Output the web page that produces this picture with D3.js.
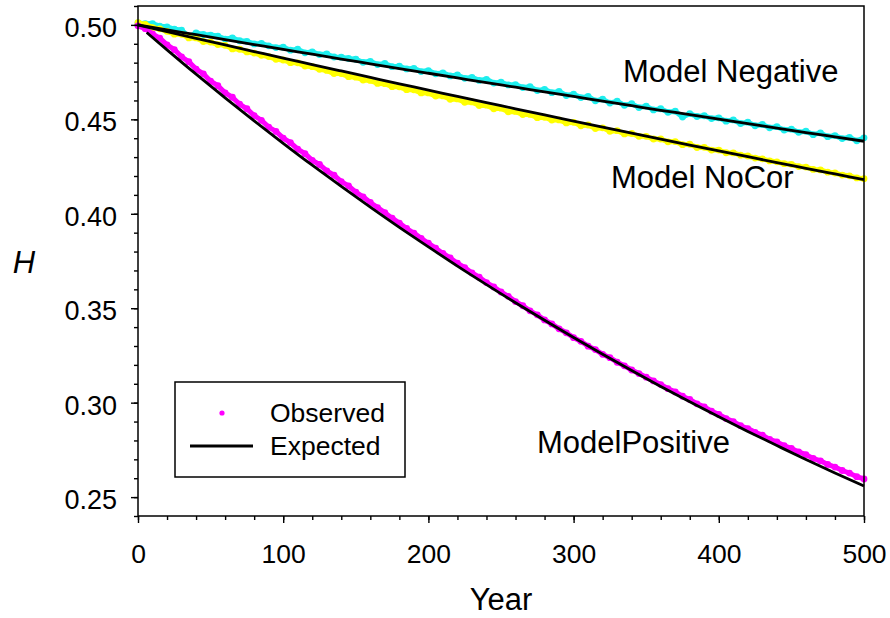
<!DOCTYPE html>
<html>
<head>
<meta charset="utf-8">
<script src="https://cdn.jsdelivr.net/npm/d3@7"></script>
<style>
  body { margin: 0; background: #fff; }
  svg text { font-family: "Liberation Sans", Arial, sans-serif; fill: #000; }
</style>
</head>
<body>
<div id="chart"></div>
<script>
// Years at which the observed values were read (every 5 years)
var obsYears = [0,5,10,15,20,25,30,35,40,45,50,55,60,65,70,75,80,85,90,95,
  100,105,110,115,120,125,130,135,140,145,150,155,160,165,170,175,180,185,190,195,
  200,205,210,215,220,225,230,235,240,245,250,255,260,265,270,275,280,285,290,295,
  300,305,310,315,320,325,330,335,340,345,350,355,360,365,370,375,380,385,390,395,
  400,405,410,415,420,425,430,435,440,445,450,455,460,465,470,475,480,485,490,495,500];

// Observed H, Model Negative (cyan)
var negObserved = [.5010,.5006,.5007,.4993,.4990,.4978,.4972,.4938,.4957,.4949,
  .4946,.4941,.4925,.4931,.4916,.4913,.4899,.4902,.4889,.4880,
  .4882,.4866,.4871,.4852,.4857,.4843,.4846,.4830,.4829,.4822,
  .4818,.4802,.4807,.4790,.4796,.4779,.4781,.4767,.4770,.4753,
  .4758,.4741,.4746,.4730,.4735,.4717,.4722,.4706,.4712,.4692,
  .4697,.4682,.4684,.4668,.4673,.4652,.4659,.4641,.4648,.4626,
  .4633,.4615,.4621,.4598,.4607,.4586,.4596,.4574,.4583,.4562,
  .4570,.4550,.4556,.4537,.4543,.4512,.4530,.4515,.4519,.4504,
  .4508,.4490,.4497,.4478,.4485,.4466,.4473,.4455,.4461,.4443,
  .4448,.4431,.4437,.4419,.4428,.4408,.4414,.4398,.4405,.4386,.4402];

// Observed H, Model NoCor (yellow)
var noCorObserved = [.5012,.5003,.4986,.4979,.4966,.4951,.4950,.4931,.4931,.4912,
  .4909,.4896,.4892,.4873,.4871,.4857,.4851,.4839,.4832,.4818,
  .4814,.4800,.4799,.4782,.4779,.4765,.4759,.4742,.4742,.4726,
  .4723,.4708,.4706,.4690,.4689,.4673,.4672,.4657,.4656,.4640,
  .4640,.4623,.4624,.4606,.4608,.4590,.4592,.4573,.4575,.4556,
  .4559,.4540,.4542,.4525,.4526,.4509,.4511,.4496,.4497,.4481,
  .4484,.4466,.4470,.4451,.4455,.4437,.4440,.4423,.4425,.4410,
  .4410,.4396,.4396,.4381,.4382,.4366,.4368,.4351,.4352,.4337,
  .4337,.4323,.4322,.4310,.4306,.4295,.4291,.4280,.4275,.4265,
  .4262,.4250,.4247,.4235,.4232,.4220,.4216,.4205,.4201,.4190,.4186];

// Observed H, Model Positive (magenta)
var posObserved = [.4995,.4980,.4952,.4930,.4894,.4869,.4831,.4805,.4766,.4741,
  .4702,.4678,.4640,.4617,.4580,.4556,.4520,.4495,.4459,.4436,
  .4401,.4377,.4342,.4318,.4283,.4261,.4227,.4204,.4170,.4148,
  .4115,.4090,.4060,.4033,.4006,.3977,.3951,.3922,.3898,.3870,
  .3844,.3818,.3790,.3766,.3738,.3715,.3687,.3664,.3636,.3613,
  .3586,.3563,.3535,.3513,.3486,.3465,.3438,.3417,.3391,.3370,
  .3344,.3325,.3299,.3281,.3256,.3238,.3214,.3195,.3173,.3154,
  .3135,.3115,.3096,.3074,.3057,.3034,.3017,.2994,.2978,.2955,
  .2938,.2916,.2900,.2878,.2863,.2843,.2828,.2806,.2792,.2772,
  .2758,.2739,.2725,.2705,.2692,.2673,.2659,.2641,.2627,.2608,.2596];

// Expected curves (read every 20 years)
var expYears = [0,20,40,60,80,100,120,140,160,180,200,220,240,260,280,300,
  320,340,360,380,400,420,440,460,480,500];
var negExpected = [.5000,.4974,.4948,.4922,.4896,.4870,.4845,.4819,.4794,.4769,
  .4744,.4719,.4694,.4670,.4645,.4621,.4596,.4572,.4548,.4525,.4501,.4477,.4454,.4430,.4407,.4384];
var noCorExpected = [.5000,.4964,.4929,.4894,.4859,.4824,.4790,.4756,.4722,.4688,
  .4655,.4621,.4588,.4556,.4523,.4491,.4459,.4427,.4395,.4364,.4333,.4302,.4271,.4241,.4211,.4181];
// the positive curve starts a few years in
var posExpYears = [6,20,40,60,80,100,120,140,160,180,200,220,240,260,280,300,
  320,340,360,380,400,420,440,460,480,500];
var posExpected = [.4960,.4868,.4739,.4614,.4492,.4373,.4257,.4145,.4035,.3928,
  .3825,.3723,.3625,.3529,.3436,.3345,.3256,.3170,.3086,.3005,.2925,.2848,.2773,.2699,.2628,.2559];

var xTicks = [0,100,200,300,400,500];
var yTicks = [0.25,0.30,0.35,0.40,0.45,0.50];

var seriesLabels = ["Model Negative", "Model NoCor", "ModelPositive"];
var legendLabels = ["Observed", "Expected"];

var colors = {neg: "#1eeeee", noCor: "#ffff00", pos: "#ff00ff"};

// Page size and plot box
var width = 890, height = 618;
var margin = {left: 138, right: 26, top: 6, bottom: 102};
var plotW = width - margin.left - margin.right;
var plotH = height - margin.top - margin.bottom;

var svg = d3.select("#chart").append("svg")
  .attr("width", width)
  .attr("height", height);

var chart = svg.append("g")
  .attr("transform", "translate(" + margin.left + "," + margin.top + ")");

var x = d3.scaleLinear().domain([0, 500]).range([0, plotW]);
var y = d3.scaleLinear().domain([0.24, 0.51]).range([plotH, 0]);

// Observed points: cyan, then yellow, then magenta on top
function drawObserved(values, color) {
  var pts = values.map(function (v, i) { return [obsYears[i], v]; });
  chart.append("path")
    .datum(pts)
    .attr("fill", "none")
    .attr("stroke", color)
    .attr("stroke-width", 5)
    .attr("stroke-linejoin", "round")
    .attr("d", d3.line().x(function (d) { return x(d[0]); }).y(function (d) { return y(d[1]); }));
  chart.append("g").selectAll("circle")
    .data(pts)
    .enter()
    .append("circle")
    .attr("cx", function (d) { return x(d[0]); })
    .attr("cy", function (d) { return y(d[1]); })
    .attr("r", 3.4)
    .attr("fill", color);
}
drawObserved(negObserved, colors.neg);
drawObserved(noCorObserved, colors.noCor);
drawObserved(posObserved, colors.pos);

// Expected lines on top
var line = d3.line()
  .curve(d3.curveMonotoneX)
  .x(function (d) { return x(d[0]); })
  .y(function (d) { return y(d[1]); });

function drawExpected(years, values) {
  chart.append("path")
    .datum(values.map(function (v, i) { return [years[i], v]; }))
    .attr("fill", "none")
    .attr("stroke", "#000")
    .attr("stroke-width", 2.8)
    .attr("d", line);
}
drawExpected(expYears, negExpected);
drawExpected(expYears, noCorExpected);
drawExpected(posExpYears, posExpected);

// Minor ticks
chart.append("g")
  .attr("transform", "translate(0," + plotH + ")")
  .call(d3.axisBottom(x).tickValues(d3.range(0, 501, 20)).tickSize(4).tickFormat(""))
  .call(function (g) { g.select(".domain").remove(); });
chart.append("g")
  .call(d3.axisLeft(y).tickValues(d3.range(24, 52).map(function (d) { return d / 100; })).tickSize(4).tickFormat(""))
  .call(function (g) { g.select(".domain").remove(); });

// Major ticks and labels
var xAxis = chart.append("g")
  .attr("transform", "translate(0," + plotH + ")")
  .call(d3.axisBottom(x).tickValues(xTicks).tickSize(7).tickSizeOuter(0).tickPadding(21));
xAxis.select(".domain").remove();
xAxis.selectAll("text").style("font-size", "26.5px");

var yAxis = chart.append("g")
  .call(d3.axisLeft(y).tickValues(yTicks).tickFormat(d3.format(".2f")).tickSize(7).tickSizeOuter(0).tickPadding(14));
yAxis.select(".domain").remove();
yAxis.selectAll("text").style("font-size", "27px").attr("dy", "0.43em");

chart.selectAll(".tick line").attr("stroke-width", 1.4);

// Plot frame
chart.append("rect")
  .attr("width", plotW)
  .attr("height", plotH)
  .attr("fill", "none")
  .attr("stroke", "#000")
  .attr("stroke-width", 1.5);

// Axis titles
svg.append("text")
  .attr("x", margin.left + plotW / 2)
  .attr("y", 610)
  .attr("text-anchor", "middle")
  .style("font-size", "31px")
  .text("Year");

svg.append("text")
  .attr("x", 24)
  .attr("y", 273)
  .attr("text-anchor", "middle")
  .style("font-size", "31px")
  .style("font-style", "italic")
  .text("H");

// Curve labels
var labelPos = [[623, 82], [611, 188], [537, 453]];
svg.selectAll(".series-label")
  .data(seriesLabels)
  .enter()
  .append("text")
  .attr("class", "series-label")
  .attr("x", function (d, i) { return labelPos[i][0]; })
  .attr("y", function (d, i) { return labelPos[i][1]; })
  .style("font-size", "31px")
  .text(function (d) { return d; });

// Legend
var legend = svg.append("g").attr("transform", "translate(175,382)");
legend.append("rect")
  .attr("width", 230)
  .attr("height", 95)
  .attr("fill", "#fff")
  .attr("stroke", "#000")
  .attr("stroke-width", 1.5);
legend.append("circle")
  .attr("cx", 47)
  .attr("cy", 31)
  .attr("r", 2.6)
  .attr("fill", colors.pos);
legend.append("line")
  .attr("x1", 15).attr("x2", 78)
  .attr("y1", 64).attr("y2", 64)
  .attr("stroke", "#000")
  .attr("stroke-width", 3);
legend.selectAll(".legend-label")
  .data(legendLabels)
  .enter()
  .append("text")
  .attr("class", "legend-label")
  .attr("x", 95)
  .attr("y", function (d, i) { return 40 + i * 33; })
  .style("font-size", "26.5px")
  .text(function (d) { return d; });
</script>
</body>
</html>
